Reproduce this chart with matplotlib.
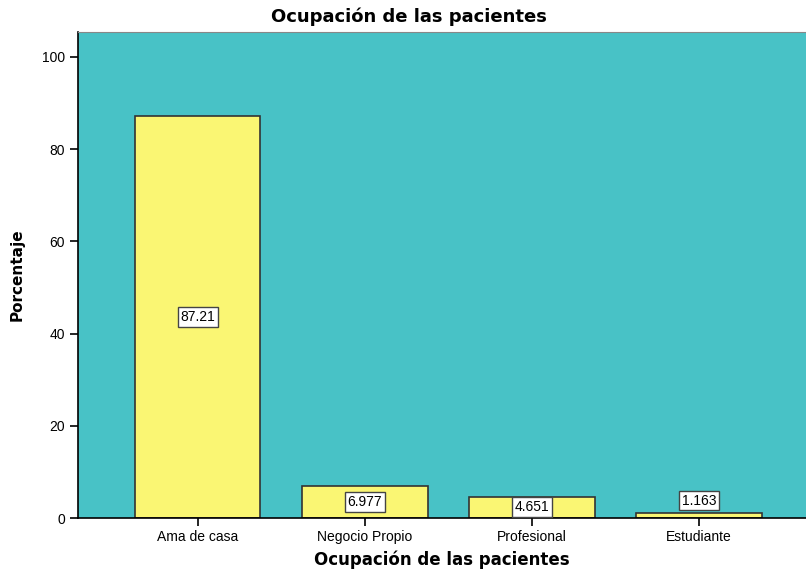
import matplotlib.pyplot as plt

# Datos
categorias = ["Ama de casa", "Negocio Propio", "Profesional", "Estudiante"]
porcentajes = [87.21, 6.977, 4.651, 1.163]
etiquetas = ["87.21", "6.977", "4.651", "1.163"]

fondo = "#48C2C6"
amarillo = "#FAF673"

fig = plt.figure(figsize=(8.06, 5.73), dpi=100)
ax = fig.add_axes([78 / 806, 55 / 573, 1 - 78 / 806, (518 - 32) / 573])
ax.set_facecolor(fondo)

x = range(len(categorias))
ax.bar(x, porcentajes, width=0.75, color=amarillo, edgecolor="#333333", linewidth=1.2, zorder=2)

caja = dict(boxstyle="square,pad=0.2", facecolor="white", edgecolor="#444444", linewidth=1)
for i, (v, t) in enumerate(zip(porcentajes, etiquetas)):
    if v > 3:
        ax.text(i, v / 2, t, ha="center", va="center", fontsize=10,
                family="Liberation Sans", bbox=caja, zorder=3)
    else:
        ax.text(i, v + 1.1, t, ha="center", va="bottom", fontsize=10,
                family="Liberation Sans", bbox=caja, zorder=3)

ax.set_xlim(-0.717, 3.64)
ax.set_ylim(0, 105.4)
ax.set_yticks([0, 20, 40, 60, 80, 100])
ax.set_xticks(list(x))
ax.set_xticklabels(categorias)
ax.tick_params(axis="both", direction="out", length=6, width=1.2, labelsize=10)
ax.tick_params(axis="x", pad=2.5)
for lab in ax.get_xticklabels() + ax.get_yticklabels():
    lab.set_family("Liberation Sans")

ax.spines["right"].set_visible(False)
ax.spines["top"].set_color("#888888")
ax.spines["left"].set_linewidth(1.2)
ax.spines["bottom"].set_linewidth(1.2)

# el título va centrado en la figura, no en el eje
fig.text(409 / 806, 1 - 17 / 573, "Ocupación de las pacientes", fontsize=13,
         fontweight="bold", ha="center", va="center")
ax.set_xlabel("Ocupación de las pacientes", fontsize=12, fontweight="bold", labelpad=5)
ax.set_ylabel("Porcentaje", fontsize=11, fontweight="bold", labelpad=12)

fig.savefig("out.png", dpi=100)
